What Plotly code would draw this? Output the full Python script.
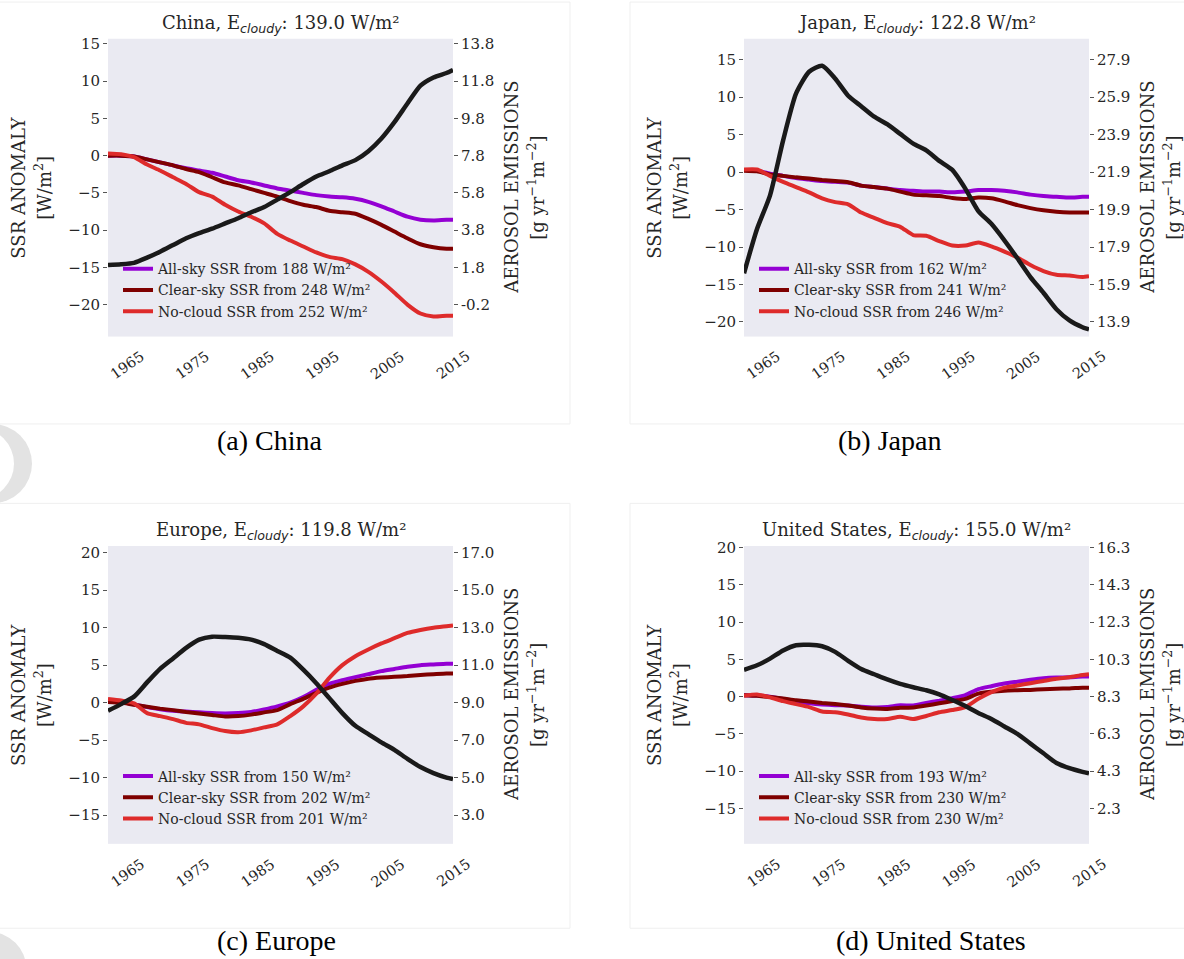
import plotly.graph_objects as go

# ---------------------------------------------------------------- data
YEARS = [1962, 1964, 1966, 1968, 1970, 1972, 1974, 1976, 1978, 1980,
         1982, 1984, 1986, 1988, 1990, 1992, 1994, 1996, 1998, 2000,
         2002, 2004, 2006, 2008, 2010, 2012, 2014, 2015]
TICK_YEARS = [1965, 1975, 1985, 1995, 2005, 2015]

REGIONS = ["China", "Japan", "Europe", "United States"]
CAPTIONS = ["(a) China", "(b) Japan", "(c) Europe", "(d) United States"]
E_CLOUDY = [139.0, 122.8, 119.8, 155.0]
ALLSKY_BASE = [188, 162, 150, 193]
CLEARSKY_BASE = [248, 241, 202, 230]
NOCLOUD_BASE = [252, 246, 201, 230]

# SSR anomalies [W/m2]
china_allsky = [0.0, 0.0, -0.1, -0.5, -0.9, -1.3, -1.7, -2.0, -2.3, -2.8,
                -3.3, -3.6, -4.0, -4.4, -4.7, -5.0, -5.3, -5.5, -5.6, -5.8,
                -6.2, -6.8, -7.5, -8.2, -8.6, -8.7, -8.6, -8.6]
china_clearsky = [0.0, 0.0, -0.1, -0.5, -0.9, -1.3, -1.8, -2.2, -2.9, -3.6,
                  -4.0, -4.5, -5.0, -5.5, -6.1, -6.6, -6.9, -7.4, -7.6, -7.8,
                  -8.5, -9.3, -10.2, -11.1, -11.9, -12.3, -12.5, -12.5]
china_nocloud = [0.3, 0.2, -0.2, -1.2, -2.0, -2.9, -3.8, -4.9, -5.5, -6.6,
                 -7.5, -8.2, -9.1, -10.5, -11.4, -12.2, -13.0, -13.6, -13.9, -14.6,
                 -15.6, -16.9, -18.4, -20.0, -21.2, -21.6, -21.5, -21.5]
# aerosol emissions [g yr-1 m-2]
china_aerosol = [1.92, 1.96, 2.04, 2.32, 2.64, 3.0, 3.36, 3.64, 3.88, 4.16,
                 4.44, 4.76, 5.04, 5.44, 5.84, 6.28, 6.68, 6.96, 7.28, 7.56,
                 8.04, 8.72, 9.6, 10.6, 11.56, 12.0, 12.24, 12.4]

japan_allsky = [0.3, 0.2, -0.2, -0.5, -0.8, -1.0, -1.2, -1.3, -1.4, -1.8,
                -2.0, -2.2, -2.4, -2.5, -2.6, -2.6, -2.7, -2.6, -2.4, -2.4,
                -2.5, -2.7, -3.0, -3.2, -3.3, -3.4, -3.3, -3.3]
japan_clearsky = [0.2, 0.1, -0.3, -0.5, -0.7, -0.85, -1.05, -1.2, -1.35, -1.8,
                  -2.0, -2.2, -2.6, -3.0, -3.1, -3.2, -3.45, -3.6, -3.4, -3.5,
                  -3.9, -4.4, -4.8, -5.1, -5.3, -5.4, -5.4, -5.4]
japan_nocloud = [0.35, 0.35, -0.5, -1.3, -2.0, -2.7, -3.5, -4.0, -4.3, -5.4,
                 -6.1, -6.8, -7.3, -8.4, -8.5, -9.2, -9.8, -9.8, -9.4, -9.9,
                 -10.6, -11.4, -12.4, -13.2, -13.7, -13.8, -14.0, -13.9]
japan_aerosol = [16.5, 18.86, 20.66, 23.58, 26.1, 27.26, 27.58, 26.9, 25.98, 25.42,
                 24.86, 24.46, 23.94, 23.42, 23.06, 22.5, 22.02, 21.02, 19.82, 19.14,
                 18.26, 17.3, 16.3, 15.46, 14.58, 13.98, 13.62, 13.5]

europe_allsky = [0.3, 0.1, -0.25, -0.6, -0.9, -1.1, -1.2, -1.3, -1.4, -1.45,
                 -1.4, -1.25, -0.9, -0.5, 0.0, 0.75, 1.7, 2.5, 3.0, 3.4,
                 3.8, 4.2, 4.5, 4.8, 5.0, 5.1, 5.2, 5.2]
europe_clearsky = [0.1, 0.0, -0.3, -0.55, -0.8, -1.0, -1.25, -1.45, -1.65, -1.85,
                   -1.8, -1.6, -1.3, -1.0, -0.2, 0.5, 1.3, 2.0, 2.5, 2.9,
                   3.2, 3.35, 3.45, 3.55, 3.7, 3.8, 3.9, 3.9]
europe_nocloud = [0.5, 0.3, -0.1, -1.4, -1.8, -2.2, -2.7, -2.9, -3.4, -3.8,
                  -3.95, -3.7, -3.3, -2.9, -1.8, -0.5, 1.2, 3.3, 5.0, 6.2,
                  7.1, 7.9, 8.6, 9.3, 9.7, 10.0, 10.2, 10.3]
europe_aerosol = [8.56, 8.92, 9.32, 10.08, 10.8, 11.36, 11.92, 12.36, 12.52, 12.5,
                  12.46, 12.36, 12.12, 11.76, 11.4, 10.76, 10.04, 9.24, 8.44, 7.76,
                  7.32, 6.88, 6.48, 6.0, 5.56, 5.24, 5.0, 4.92]

us_allsky = [0.2, 0.15, 0.0, -0.3, -0.7, -0.9, -1.05, -1.15, -1.2, -1.35,
             -1.45, -1.4, -1.15, -1.2, -0.85, -0.55, -0.2, 0.2, 1.0, 1.4,
             1.75, 2.0, 2.25, 2.45, 2.55, 2.6, 2.7, 2.7]
us_clearsky = [0.2, 0.1, -0.05, -0.25, -0.5, -0.65, -0.85, -1.0, -1.2, -1.45,
               -1.6, -1.65, -1.5, -1.45, -1.2, -0.9, -0.6, -0.3, 0.4, 0.65,
               0.8, 0.85, 0.9, 1.0, 1.05, 1.1, 1.2, 1.2]
us_nocloud = [0.1, 0.3, -0.1, -0.6, -1.0, -1.4, -2.0, -2.1, -2.4, -2.8,
              -3.0, -3.0, -2.7, -3.0, -2.6, -2.1, -1.8, -1.4, -0.3, 0.6,
              1.2, 1.5, 1.8, 2.1, 2.4, 2.6, 2.9, 3.0]
us_aerosol = [9.74, 9.98, 10.34, 10.78, 11.06, 11.08, 11.0, 10.7, 10.22, 9.78,
              9.5, 9.22, 8.98, 8.8, 8.64, 8.42, 8.12, 7.8, 7.42, 7.1,
              6.7, 6.3, 5.78, 5.26, 4.74, 4.46, 4.26, 4.18]

ALLSKY = [china_allsky, japan_allsky, europe_allsky, us_allsky]
CLEARSKY = [china_clearsky, japan_clearsky, europe_clearsky, us_clearsky]
NOCLOUD = [china_nocloud, japan_nocloud, europe_nocloud, us_nocloud]
AEROSOL = [china_aerosol, japan_aerosol, europe_aerosol, us_aerosol]

# axis settings: left SSR ticks/range and the emission value lined up with 0 W/m2
SSR_TICKS = [[-20, -15, -10, -5, 0, 5, 10, 15],
             [-20, -15, -10, -5, 0, 5, 10, 15],
             [-15, -10, -5, 0, 5, 10, 15, 20],
             [-15, -10, -5, 0, 5, 10, 15, 20]]
SSR_RANGE = [[-24.3, 15.7], [-21.95, 17.8], [-18.85, 20.9], [-19.75, 20.2]]
EMIS_AT_ZERO = [7.8, 21.9, 9.0, 8.3]
EMIS_PER_WM2 = 0.4

# ---------------------------------------------------------------- layout
W, H = 1184, 959
# plot boxes in pixels: (left, top, right, bottom)
BOXES = [(108, 32, 453, 332), (744, 32, 1089, 332),
         (108, 543, 453, 843), (744, 543, 1089, 843)]
CAPTION_POS = [(270, 437), (889, 437), (276, 940), (931, 940)]

C_ALL = "#9400D3"
C_CLEAR = "#7F0000"
C_NOCLOUD = "#DE2B2B"
C_AER = "#1A1A1A"
SERIF = "DejaVu Serif"
TXT = "#262626"


def fx(x):
    return x / W


def fy(y):
    return 1 - y / H


def note(x, y, text, size, angle=0, family=SERIF, color=TXT):
    return dict(x=fx(x), y=fy(y), xref="paper", yref="paper", text=text,
                textangle=angle, showarrow=False, xanchor="center",
                yanchor="middle", font=dict(family=family, size=size, color=color))


fig = go.Figure()
layout = dict(
    width=W, height=H, autosize=False,
    margin=dict(l=0, r=0, t=0, b=0),
    paper_bgcolor="white", plot_bgcolor="#EAEAF2",
    font=dict(family=SERIF, color=TXT, size=14),
    annotations=[], shapes=[],
)

for i in range(4):
    left, top, right, bottom = BOXES[i]
    xn = "x" if i == 0 else f"x{i + 1}"
    yl = f"y{2 * i + 1}" if i > 0 else "y"
    yr = f"y{2 * i + 2}"
    leg = "legend" if i == 0 else f"legend{i + 1}"

    series = [(f"All-sky SSR from {ALLSKY_BASE[i]} W/m²", ALLSKY[i], C_ALL),
              (f"Clear-sky SSR from {CLEARSKY_BASE[i]} W/m²", CLEARSKY[i], C_CLEAR),
              (f"No-cloud SSR from {NOCLOUD_BASE[i]} W/m²", NOCLOUD[i], C_NOCLOUD)]
    for name, vals, col in series:
        fig.add_trace(go.Scatter(
            x=YEARS, y=vals, mode="lines", name=name,
            line=dict(color=col, width=4, shape="spline", smoothing=0.6),
            xaxis=xn, yaxis=yl, legend=leg, legendgroup=f"{i}-{name}",
        ))
    fig.add_trace(go.Scatter(
        x=YEARS, y=AEROSOL[i], mode="lines", showlegend=False,
        line=dict(color=C_AER, width=4.5, shape="spline", smoothing=0.6),
        xaxis=xn, yaxis=yr,
    ))

    xkey = "xaxis" if i == 0 else f"xaxis{i + 1}"
    ylkey = "yaxis" if i == 0 else f"yaxis{2 * i + 1}"
    yrkey = f"yaxis{2 * i + 2}"
    layout[xkey] = dict(
        domain=[fx(left), fx(right)], anchor=yl, range=[1962, 2015],
        showticklabels=False, ticks="", showgrid=False, zeroline=False,
        showline=False,
    )
    common_y = dict(
        ticks="outside", ticklen=4, tickwidth=1, tickcolor="#555555",
        tickfont=dict(family=SERIF, size=15, color=TXT),
        showgrid=False, zeroline=False, showline=False,
    )
    lo, hi = SSR_RANGE[i]
    layout[ylkey] = dict(
        domain=[fy(bottom), fy(top)], anchor=xn, range=[lo, hi],
        tickvals=SSR_TICKS[i], side="left", **common_y,
    )
    e0 = EMIS_AT_ZERO[i]
    etick = [e0 + EMIS_PER_WM2 * t for t in SSR_TICKS[i]]
    layout[yrkey] = dict(
        overlaying=yl, anchor=xn, side="right",
        range=[e0 + EMIS_PER_WM2 * lo, e0 + EMIS_PER_WM2 * hi],
        tickvals=etick, ticktext=[f"{v:.1f}" for v in etick], **common_y,
    )

    layout[leg] = dict(
        x=fx(left + 10), y=fy(bottom - 84), xanchor="left", yanchor="top",
        bgcolor="rgba(0,0,0,0)", borderwidth=0,
        font=dict(family=SERIF, size=14, color=TXT),
        traceorder="grouped", tracegroupgap=0,
    )

    cx = (left + right) / 2
    cy = (top + bottom) / 2
    ann = layout["annotations"]
    # panel title
    ann.append(note(
        cx, top - 15,
        (f"{REGIONS[i]}, E<sub><span style='font-family:DejaVu Sans;"
         f"font-style:italic'>cloudy</span></sub>: {E_CLOUDY[i]:.1f} W/m²"),
        18))
    # rotated year labels
    for yr_ in TICK_YEARS:
        ann.append(dict(
            x=yr_, xref=xn, y=-29 / (bottom - top), yref=f"{yl} domain",
            text=str(yr_), textangle=-35, showarrow=False,
            xanchor="center", yanchor="middle",
            font=dict(family=SERIF, size=14.5, color=TXT),
        ))
    # axis titles
    dx = 0 if i in (0, 2) else 636
    ann.append(note(19 + dx, cy, "SSR ANOMALY", 18, -90))
    ann.append(note(43 + dx, cy, "[W/m<sup>2</sup>]", 18, -90))
    ann.append(note(512 + dx, cy, "AEROSOL EMISSIONS", 18, -90))
    ann.append(note(536 + dx, cy, "[g yr<sup>−1</sup>m<sup>−2</sup>]", 18, -90))
    # caption under each sub-figure
    cap_x, cap_y = CAPTION_POS[i]
    ann.append(note(cap_x, cap_y, CAPTIONS[i], 28, family="Liberation Serif",
                    color="black"))

# faint borders of the embedded sub-figure images
edge = dict(color="#EFEFEF", width=1)
sh = layout["shapes"]
for (x0, y0, x1, y1) in [(-5, -5, 570, 420), (630, -5, 1190, 420),
                         (-5, 500, 570, 928), (630, 500, 1190, 928)]:
    sh.append(dict(type="rect", xref="paper", yref="paper", x0=fx(x0), x1=fx(x1),
                   y0=fy(y1), y1=fy(y0), line=edge, layer="below"))
# light grey marks at the left page edge
for (cx_, cy_, r, col) in [(-8, 460, 40, "#E3E3E3"), (-22, 460, 36, "white"),
                           (-10, 968, 36, "#E3E3E3")]:
    sh.append(dict(type="circle", xref="paper", yref="paper",
                   x0=fx(cx_ - r), x1=fx(cx_ + r), y0=fy(cy_ + r), y1=fy(cy_ - r),
                   fillcolor=col, line=dict(width=0), layer="below"))

fig.update_layout(**layout)
fig.write_html("out.html")
